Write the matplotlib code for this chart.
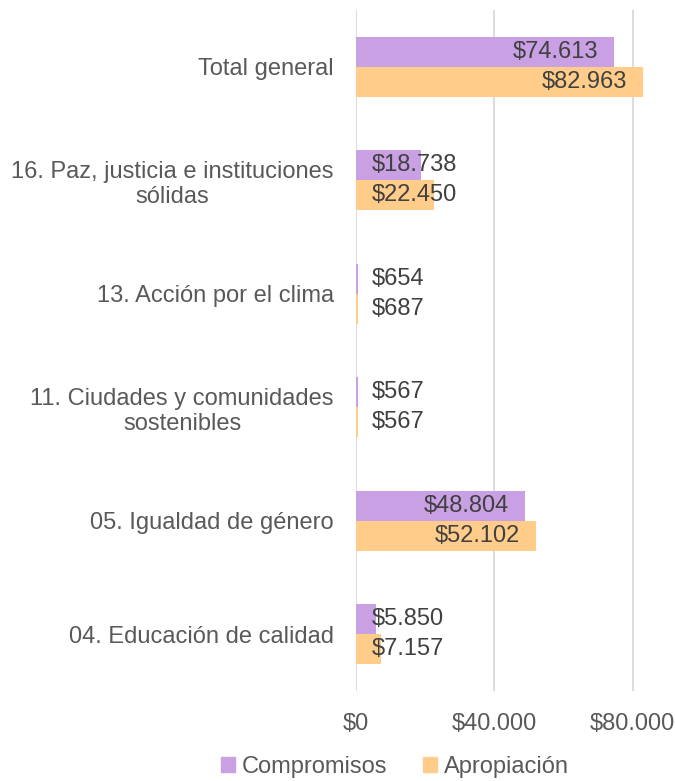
import numpy as np
import matplotlib.pyplot as plt
from matplotlib.patches import Patch
from matplotlib.ticker import FuncFormatter

plt.rcParams['font.family'] = ['Liberation Sans', 'DejaVu Sans']

# data (top to bottom as shown in the chart)
categorias = ["Total general",
              "16. Paz, justicia e instituciones\nsólidas",
              "13. Acción por el clima",
              "11. Ciudades y comunidades\nsostenibles",
              "05. Igualdad de género",
              "04. Educación de calidad"]
compromisos = [74613, 18738, 654, 567, 48804, 5850]
apropiacion = [82963, 22450, 687, 567, 52102, 7157]
x_ticks = [0, 40000, 80000]

color_comp = "#C9A0E3"
color_apro = "#FFCC8A"
text_color = "#595959"
grid_color = "#D9D9D9"
fs = 17


def pesos(v, pos=None):
    return "$" + f"{int(round(v)):,}".replace(",", ".")


fig = plt.figure(figsize=(6.75, 7.81), dpi=100)
ax = fig.add_axes([356 / 675, 1 - 691 / 781, 0.4614, 681 / 781])

y = np.arange(len(categorias))
h = 0.265
ax.barh(y - h / 2, compromisos, height=h, color=color_comp, zorder=2)
ax.barh(y + h / 2, apropiacion, height=h, color=color_apro, zorder=2)

# labels: inside end, pushed right of the axis when the bar is too short
for serie, off in ((compromisos, -h / 2), (apropiacion, h / 2)):
    for yi, v in zip(y, serie):
        if v > 35000:
            ax.text(v - 4600, yi + off, pesos(v), ha='right', va='center',
                    fontsize=fs, color="#404040", zorder=3)
        else:
            ax.text(4600, yi + off, pesos(v), ha='left', va='center',
                    fontsize=fs, color="#404040", zorder=3)

ax.set_ylim(len(categorias) - 0.5, -0.5)
ax.set_xlim(0, 90000)
ax.set_yticks(y)
ax.set_yticklabels(categorias, fontsize=fs, color=text_color, ha='right',
                   multialignment='center')
ax.set_xticks(x_ticks)
ax.xaxis.set_major_formatter(FuncFormatter(pesos))
ax.tick_params(axis='x', length=0, pad=16, labelsize=fs, labelcolor=text_color)
ax.tick_params(axis='y', length=0, pad=16)
for s in ax.spines.values():
    s.set_visible(False)
ax.grid(axis='x', color=grid_color, linewidth=1.3, zorder=0)
ax.set_axisbelow(True)

handles = [Patch(color=color_comp, label="Compromisos"),
           Patch(color=color_apro, label="Apropiación")]
fig.legend(handles=handles, loc='center', bbox_to_anchor=(0.585, 0.018),
           ncol=2, frameon=False, fontsize=fs, handlelength=0.6,
           handleheight=0.6, handletextpad=0.3, columnspacing=1.5,
           labelcolor=text_color, borderpad=0.1)

fig.savefig("out.png", dpi=100)
